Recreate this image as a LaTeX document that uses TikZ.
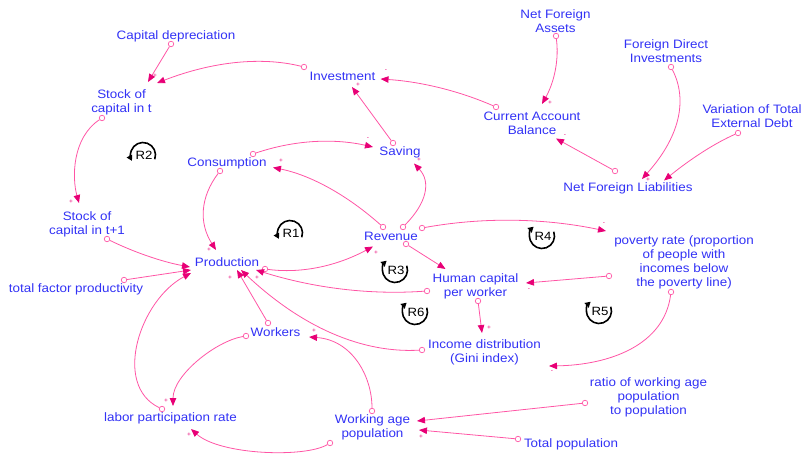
\documentclass[tikz,border=0pt]{standalone}
\usepackage{fontspec}
\setmainfont{Liberation Sans}[FakeStretch=1.1]
\usetikzlibrary{arrows.meta}
\definecolor{vblue}{RGB}{50,50,245}
\definecolor{vlink}{RGB}{255,85,165}
\definecolor{vhead}{RGB}{232,0,118}
\begin{document}
\begin{tikzpicture}[x=1pt,y=-1pt,
  var/.style={text=vblue, font=\fontsize{12.2}{14}\selectfont, align=center, inner sep=0pt},
  tail/.style={circle, draw=vlink, fill=white, line width=0.7pt, minimum size=5.5pt, inner sep=0pt},
  link/.style={draw=vlink, line width=0.8pt, -{Triangle[length=8pt,width=6.5pt,color=vhead]}},
  sign/.style={text=vhead, font=\fontsize{6}{6}\selectfont, inner sep=0pt},
  looptext/.style={font=\fontsize{12}{12}\selectfont, inner sep=0pt},
  loopline/.style={line width=1.6pt, -{Triangle[length=5.5pt,width=6pt]}},
  % reinforcing loop, arrow running over the top and down on the left
  loopdown/.pic={
    \draw[loopline] (20:12.5) arc[start angle=20, end angle=-208, radius=12.5];
    \node[looptext] at (1,0) {#1};
  },
  % reinforcing loop, arrow running under the bottom and up on the left
  loopup/.pic={
    \draw[loopline] (-20:12.5) arc[start angle=-20, end angle=228, radius=12.5];
    \node[looptext] at (1,0) {#1};
  }
]
\useasboundingbox (0,0) rectangle (805,454);

% variables
\node[var] (cdep) at (176,36) {Capital depreciation};
\node[var] (sk) at (121.5,102) {Stock of\\capital in t};
\node[var] (inv) at (342.5,76) {Investment};
\node[var] (nfa) at (555.5,21) {Net Foreign\\Assets};
\node[var] (fdi) at (666,51) {Foreign Direct\\Investments};
\node[var] (vted) at (752,116.5) {Variation of Total\\External Debt};
\node[var] (cab) at (532,123.5) {Current Account\\Balance};
\node[var] (nfl) at (628,188.5) {Net Foreign Liabilities};
\node[var] (cons) at (227,163.5) {Consumption};
\node[var] (sav) at (400,152.5) {Saving};
\node[var] (rev) at (391,236.5) {Revenue};
\node[var] (prod) at (227,262) {Production};
\node[var] (skt1) at (87,224) {Stock of\\capital in t+1};
\node[var] (tfp) at (76,289) {total factor productivity};
\node[var] (hcw) at (475.5,286.5) {Human capital\\per worker};
\node[var] (pov) at (684,262) {poverty rate (proportion\\of people with\\incomes below\\the poverty line)};
\node[var] (inc) at (484.5,352) {Income distribution\\(Gini index)};
\node[var] (wrk) at (275.5,332) {Workers};
\node[var] (lpr) at (170.5,418.5) {labor participation rate};
\node[var] (wap) at (372.5,427.5) {Working age\\population};
\node[var] (ratio) at (648.5,397) {ratio of working age\\population\\to population};
\node[var] (tp) at (571,444) {Total population};

% link tails
\node[tail] (o1) at (171,44) {};
\node[tail] (o2) at (304,67) {};
\node[tail] (o3) at (102,118) {};
\node[tail] (o4) at (107,239) {};
\node[tail] (o5) at (124,280) {};
\node[tail] (o6) at (162,409) {};
\node[tail] (o7) at (220,171) {};
\node[tail] (o8) at (253,154) {};
\node[tail] (o9) at (393,143) {};
\node[tail] (o10) at (496,107) {};
\node[tail] (o11) at (556,36) {};
\node[tail] (o12) at (615,171) {};
\node[tail] (o13) at (671,67) {};
\node[tail] (o14) at (738,133) {};
\node[tail] (o15) at (383,227) {};
\node[tail] (o16) at (403,227) {};
\node[tail] (o17) at (265,269) {};
\node[tail] (o18) at (406,244) {};
\node[tail] (o19) at (422,228) {};
\node[tail] (o20) at (427,291) {};
\node[tail] (o21) at (609,276) {};
\node[tail] (o22) at (478,301) {};
\node[tail] (o23) at (671,292) {};
\node[tail] (o24) at (422,350) {};
\node[tail] (o25) at (268,323) {};
\node[tail] (o26) at (246,336) {};
\node[tail] (o27) at (372,411) {};
\node[tail] (o28) at (330,443) {};
\node[tail] (o29) at (585,403) {};
\node[tail] (o30) at (518,439) {};

% causal links
\draw[link] (o1) -- ([shift={(26.5,-20)}]sk.center);
\draw[link] (o2) .. controls (261,56.3) and (212,61.7) .. ([shift={(35.5,-19)}]sk.center);
\draw[link] (o3) .. controls (72,138) and (72,178) .. ([shift={(-8,-21)}]skt1.center);
\draw[link] (o4) .. controls (134.3,252.3) and (161.7,261.7) .. ([shift={(-37,5)}]prod.center);
\draw[link] (o5) -- ([shift={(-36,8)}]prod.center);
\draw[link] (o6) .. controls (112,385) and (140,300) .. ([shift={(-36,11)}]prod.center);
\draw[link] (o7) .. controls (200.3,197) and (198.7,223) .. ([shift={(-11,-12)}]prod.center);
\draw[link] (o8) .. controls (293.3,140.3) and (333,138) .. ([shift={(-27,-5.5)}]sav.center);
\draw[link] (o9) -- ([shift={(9.5,11)}]inv.center);
\draw[link] (o10) .. controls (459.3,91) and (421.3,81.7) .. ([shift={(38,3)}]inv.center);
\draw[link] (o11) .. controls (559,59) and (554.7,81.3) .. ([shift={(10,-19.5)}]cab.center);
\draw[link] (o12) -- ([shift={(24,15)}]cab.center);
\draw[link] (o13) .. controls (688.3,100.7) and (679,137.7) .. ([shift={(14,-9.5)}]nfl.center);
\draw[link] (o14) .. controls (715.7,142.7) and (691.3,158.3) .. ([shift={(36,-8)}]nfl.center);
\draw[link] (o15) .. controls (346.7,194.7) and (310.3,175) .. ([shift={(46,4)}]cons.center);
\draw[link] (o16) .. controls (427,202.7) and (431,181.7) .. ([shift={(14,11)}]sav.center);
\draw[link] (o17) .. controls (300.7,273.7) and (336.3,266.3) .. ([shift={(-18,10)}]rev.center);
\draw[link] (o18) -- ([shift={(-30,-17.5)}]hcw.center);
\draw[link] (o19) .. controls (483,217) and (544,218) .. ([shift={(-78,-31)}]pov.center);
\draw[link] (o20) .. controls (370.7,295) and (314.3,288.3) .. ([shift={(29,8)}]prod.center);
\draw[link] (o21) -- ([shift={(50.5,-3.5)}]hcw.center);
\draw[link] (o22) -- ([shift={(-2.5,-19)}]inc.center);
\draw[link] (o23) .. controls (664,345) and (610,365) .. ([shift={(64.5,14)}]inc.center);
\draw[link] (o24) .. controls (362,353.3) and (302,327.3) .. ([shift={(14,8)}]prod.center);
\draw[link] (o25) -- ([shift={(10,8)}]prod.center);
\draw[link] (o26) .. controls (216,341) and (173,375) .. ([shift={(2.5,-12.5)}]lpr.center);
\draw[link] (o27) .. controls (372,376) and (352,340) .. ([shift={(33.5,5)}]wrk.center);
\draw[link] (o28) .. controls (305,458) and (220,455) .. ([shift={(20.5,10.5)}]lpr.center);
\draw[link] (o29) -- ([shift={(44.5,-6.5)}]wap.center);
\draw[link] (o30) -- ([shift={(46.5,2.5)}]wap.center);

% link polarities
\node[sign] (p2) at (155,76) {+};
\node[sign] (p3) at (71,202) {+};
\node[sign] (p7) at (209,250) {+};
\node[sign] (p8) at (368,139) {-};
\node[sign] (p9) at (358,85) {+};
\node[sign] (p10) at (386,71) {-};
\node[sign] (p11) at (550,103) {+};
\node[sign] (p12) at (565,136) {-};
\node[sign] (p13) at (648,180) {+};
\node[sign] (p15) at (281,161) {+};
\node[sign] (p16) at (419,160) {+};
\node[sign] (p17) at (376,253) {+};
\node[sign] (p19) at (604,224) {-};
\node[sign] (p21) at (529,290) {-};
\node[sign] (p22) at (489,328) {+};
\node[sign] (p23) at (552,372) {-};
\node[sign] (p25) at (230,278) {+};
\node[sign] (p20) at (257,278) {+};
\node[sign] (p26) at (166,401) {+};
\node[sign] (p27) at (314,331) {+};
\node[sign] (p28) at (189,435) {+};
\node[sign] (p30) at (421,437) {+};

% loop markers
\pic (r2) at (143,155) {loopdown=R2};
\pic (r1) at (290,233) {loopdown=R1};
\pic (r3) at (395,270) {loopup=R3};
\pic (r6) at (415,312) {loopup=R6};
\pic (r4) at (542,236) {loopup=R4};
\pic (r5) at (599,311) {loopup=R5};
\end{tikzpicture}
\end{document}
